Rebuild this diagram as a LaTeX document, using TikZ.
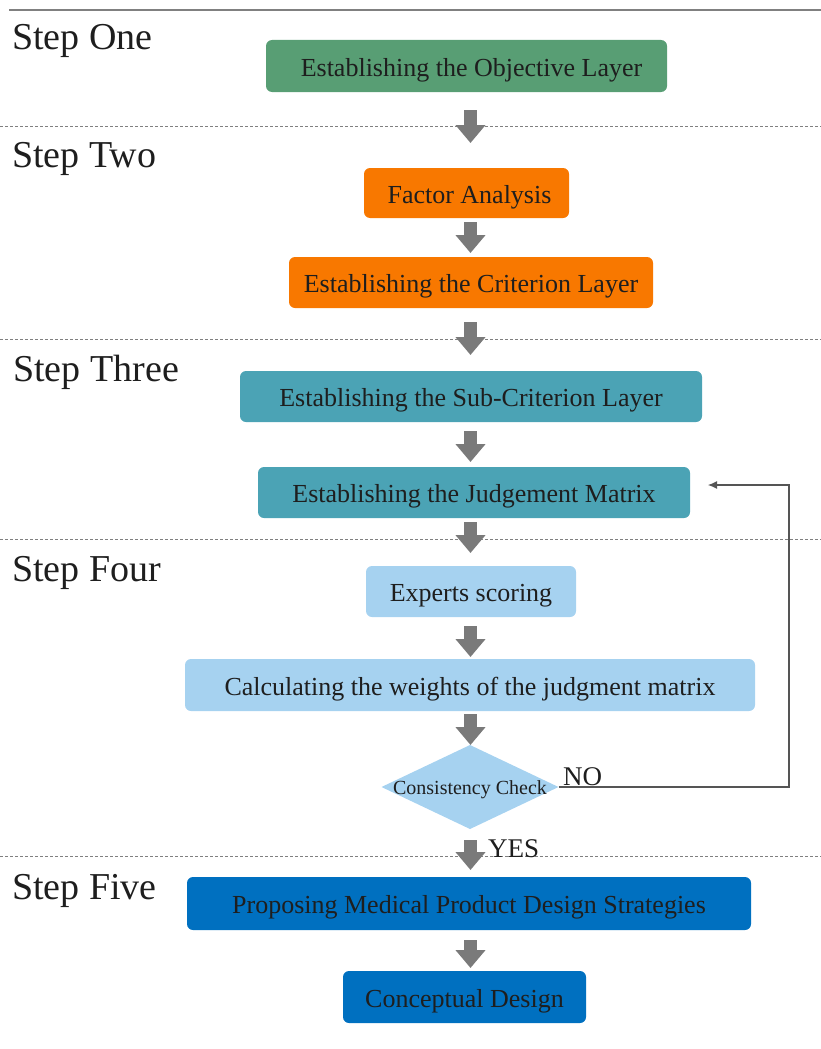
\documentclass[tikz,border=0pt]{standalone}
\usepackage{fontspec}
\setmainfont{Liberation Serif}
\usetikzlibrary{shapes.geometric,arrows.meta,calc}
\definecolor{cgreen}{RGB}{88,158,116}
\definecolor{corange}{RGB}{248,120,0}
\definecolor{cteal}{RGB}{75,163,181}
\definecolor{clight}{RGB}{166,210,240}
\definecolor{cblue}{RGB}{0,112,192}
\definecolor{ctext}{RGB}{30,30,30}
\definecolor{carrow}{RGB}{122,122,122}
\definecolor{cline}{RGB}{128,128,128}
\definecolor{cfb}{RGB}{85,85,85}
\tikzset{
  box/.style={rounded corners=6pt, inner sep=0pt, outer sep=0pt, text=ctext,
    font=\fontsize{26}{30}\selectfont, anchor=center, text height=20pt, text depth=0pt},
  steplabel/.style={anchor=base west, inner sep=0pt, text=ctext, font=\fontsize{38}{42}\selectfont},
  blockarrow/.style={draw=carrow, line width=13pt, line cap=butt,
    -{Triangle[length=18pt,width=29pt]}},
  sepline/.style={draw=cline, line width=0.8pt, dash pattern=on 3pt off 2pt},
  fbline/.style={draw=cfb, line width=1.1pt, -{Latex[length=9pt,width=8pt]}},
  yn/.style={anchor=base west, inner sep=0pt, text=ctext, font=\fontsize{27}{30}\selectfont},
}
\begin{document}
\begin{tikzpicture}[x=1pt,y=-1pt]
\useasboundingbox (0,0) rectangle (821,1049);
% top rule and separators
\draw[cline, line width=1.5pt] (9,10) -- (821,10);
\draw[sepline] (0,126) -- (821,126);
\draw[sepline] (0,339) -- (821,339);
\draw[sepline] (0,539) -- (821,539);
\draw[sepline] (0,856) -- (821,856);
% step labels
\node[steplabel] (s1) at (12,49) {Step One};
\node[steplabel] (s2) at (12,167) {Step Two};
\node[steplabel] (s3) at (13,381) {Step Three};
\node[steplabel] (s4) at (12,581) {Step Four};
\node[steplabel] (s5) at (12,899) {Step Five};
% boxes
\node[box, fill=cgreen, minimum width=401pt, minimum height=52pt] (obj) at (466.5,66) {\hspace*{10pt}Establishing the Objective Layer};
\node[box, fill=corange, minimum width=205pt, minimum height=50pt] (fa) at (466.5,193) {\hspace*{6pt}Factor Analysis};
\node[box, fill=corange, minimum width=364pt, minimum height=51pt] (crit) at (471,282.5) {Establishing the Criterion Layer};
\node[box, fill=cteal, minimum width=462pt, minimum height=51pt] (sub) at (471,396.5) {Establishing the Sub-Criterion Layer};
\node[box, fill=cteal, minimum width=432pt, minimum height=51pt] (jm) at (474,492.5) {Establishing the Judgement Matrix};
\node[box, fill=clight, minimum width=210pt, minimum height=51pt] (es) at (471,591.5) {Experts scoring};
\node[box, fill=clight, minimum width=570pt, minimum height=52pt] (calc) at (470,685) {Calculating the weights of the judgment matrix};
\node[diamond, fill=clight, inner sep=0pt, outer sep=0pt, minimum width=177pt, minimum height=84pt] (dia) at (470,787) {};
\node[inner sep=0pt, text=ctext, font=\fontsize{20}{24}\selectfont, text height=14pt, text depth=0pt] (diatext) at (dia.center) {Consistency Check};
\node[box, fill=cblue, minimum width=564pt, minimum height=53pt] (prop) at (469,903.5) {Proposing Medical Product Design Strategies};
\node[box, fill=cblue, minimum width=243pt, minimum height=52pt] (cd) at (464.5,997) {Conceptual Design};
% arrow axis
\coordinate (ax) at (470.5,0);
\draw[blockarrow, shorten <=18pt, shorten >=25pt] (obj.south -| ax) -- (fa.north -| ax);
\draw[blockarrow, shorten <=4pt, shorten >=4pt] (fa.south -| ax) -- (crit.north -| ax);
\draw[blockarrow, shorten <=14pt, shorten >=16pt] (crit.south -| ax) -- (sub.north -| ax);
\draw[blockarrow, shorten <=9pt, shorten >=5pt] (sub.south -| ax) -- (jm.north -| ax);
\draw[blockarrow, shorten <=4pt, shorten >=13pt] (jm.south -| ax) -- (es.north -| ax);
\draw[blockarrow, shorten <=9pt, shorten >=2pt] (es.south -| ax) -- (calc.north -| ax);
\draw[blockarrow, shorten <=3pt, shorten >=0pt] (calc.south -| ax) -- (dia.north -| ax);
\draw[blockarrow, shorten <=11pt, shorten >=7pt] (dia.south -| ax) -- (prop.north -| ax);
\draw[blockarrow, shorten <=10pt, shorten >=3pt] (prop.south -| ax) -- (cd.north -| ax);
% feedback loop
\coordinate (fbr) at (789,485);
\coordinate (fbend) at (708,485);
\draw[fbline] (dia.east) -| (fbr) -- (fbend);
\node[yn] (no) at (563,785) {NO};
\node[yn] (yes) at (488,857) {YES};
\end{tikzpicture}
\end{document}
